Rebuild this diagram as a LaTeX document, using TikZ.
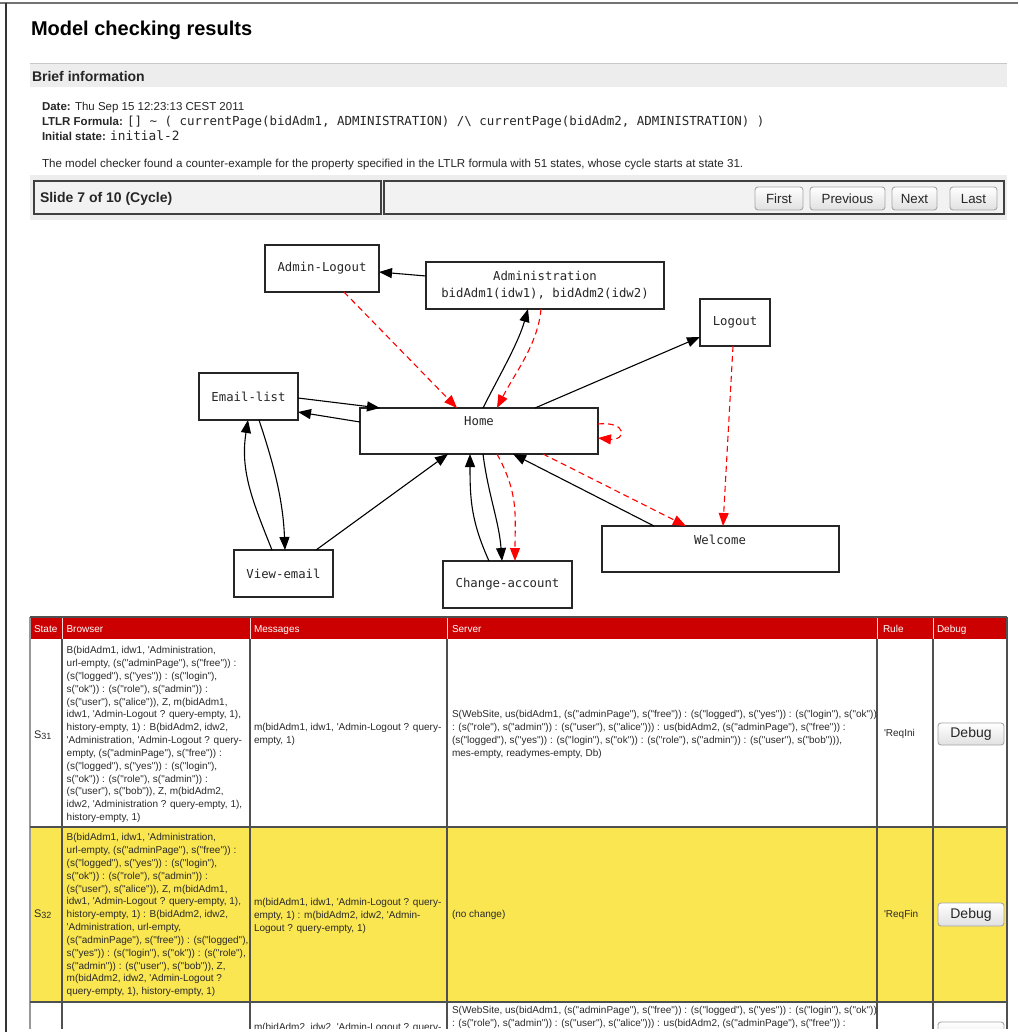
\documentclass[tikz,border=0pt]{standalone}
\usepackage{fontspec}
\setmainfont{Liberation Sans}[Ligatures=TeXOff]
\newfontfamily\monofont{DejaVu Sans Mono}
\usetikzlibrary{arrows.meta,calc}

% font size given in pixels (1px = 1pt here)
\newcommand\pxsize[1]{\fontsize{#1}{#1}\selectfont}
% several left-aligned lines; the box's baseline is the first line's baseline
\newcommand\celllines[1]{\vtop{\baselineskip=12.85pt\lineskiplimit=-100pt\lineskip=0pt\halign{##\hfil\cr#1\crcr}}}

\definecolor{hdrred}{HTML}{CC0000}
\definecolor{rowyellow}{HTML}{FAE650}
\definecolor{bandgray}{HTML}{EDEDED}
\definecolor{gridgray}{HTML}{505050}
\definecolor{celltext}{HTML}{2A2A2A}
\definecolor{btnborder}{HTML}{A6A6A6}

\tikzset{
  txt/.style={anchor=base west, text=black},
  cell/.style={anchor=base west, font=\pxsize{10}, text=celltext},
  hdr/.style={anchor=base west, font=\pxsize{10}, text=white},
  gbox/.style={draw=black!85, line width=1.2pt, rectangle, font=\monofont\pxsize{12.3}, text=black!85},
  glabel/.style={font=\monofont\pxsize{12.3}, text=black!85},
  blk/.style={draw=black, line width=1.1pt, -{Triangle[length=13pt,width=10pt]}},
  reddash/.style={draw=red, color=red, line width=1.1pt, dash pattern=on 6pt off 4pt, -{Triangle[length=13pt,width=10pt]}},
  btn/.style={draw=btnborder, line width=0.9pt, rounded corners=3pt, top color=white, bottom color=black!12, text=black!85},
}

\begin{document}
\begin{tikzpicture}[x=1pt,y=-1pt,every node/.style={inner sep=0pt,outer sep=0pt}]
\useasboundingbox (0,0) rectangle (1018,1032);
\fill[white] (0,0) rectangle (1018,1032);

% window frame
\draw[line width=2pt, draw=black!55] (0,3) -- (1018,3);
\draw[line width=1.6pt, draw=black!80] (6,3) -- (6,1032);

% heading
\node[txt, font=\bfseries\pxsize{20}] (title) at (31,36) {Model checking results};

% brief information band
\fill[bandgray] (30,63) rectangle (1007,87);
\draw[line width=1.5pt, draw=black!22] (30,63.5) -- (1007,63.5);
\node[txt, font=\bfseries\pxsize{14}, text=black!85] (brief) at (32,82) {Brief information};

\node[txt, font=\pxsize{11.5}, text=black!85] (date) at (42,111) {\textbf{Date:} Thu Sep 15 12:23:13 CEST 2011};
\node[txt, font=\pxsize{11.5}, text=black!85] (ltlr) at (42,126) {\textbf{LTLR Formula:} {\monofont\pxsize{12.45}[] \textasciitilde{} ( currentPage(bidAdm1, ADMINISTRATION) /\textbackslash{} currentPage(bidAdm2, ADMINISTRATION) )}};
\node[txt, font=\pxsize{11.5}, text=black!85] (init) at (42,141) {\textbf{Initial state:} {\monofont\pxsize{12.8}initial-2}};
\node[txt, font=\pxsize{11.6}, text=black!85] (found) at (42,168) {The model checker found a counter-example for the property specified in the LTLR formula with 51 states, whose cycle starts at state 31.};

% slide navigation bar
\fill[bandgray] (30,175) rectangle (1007,220);
\draw[line width=1.5pt, draw=black!75, fill=black!5] (34,181) rectangle (381,214);
\draw[line width=1.5pt, draw=black!75, fill=black!5] (384,181) rectangle (1004,214);
\node[txt, font=\bfseries\pxsize{14}, text=black!85] (slide) at (40,203) {Slide 7 of 10 (Cycle)};
\node[btn, font=\pxsize{13.3}, minimum width=48pt, minimum height=23pt] (first) at (779,198.5) {First};
\node[btn, font=\pxsize{13.3}, minimum width=75pt, minimum height=23pt] (prev) at (847.5,198.5) {Previous};
\node[btn, font=\pxsize{13.3}, minimum width=45pt, minimum height=23pt] (next) at (914.5,198.5) {Next};
\node[btn, font=\pxsize{13.3}, minimum width=47pt, minimum height=23pt] (last) at (973.5,198.5) {Last};

% ---- state graph ----
\node[gbox, minimum width=114pt, minimum height=47pt] (alogout) at (322,268.5) {Admin-Logout};
\node[gbox, minimum width=238pt, minimum height=47pt, align=center, font=\monofont\fontsize{12.3}{17}\selectfont] (admin) at (545,285.5) {Administration\\bidAdm1(idw1), bidAdm2(idw2)};
\node[gbox, minimum width=99pt, minimum height=47pt] (emaillist) at (248.5,396.5) {Email-list};
\node[gbox, minimum width=238pt, minimum height=46pt] (home) at (479,431) {};
\node[glabel] (hometext) at (479,421.5) {Home};
\node[gbox, minimum width=70pt, minimum height=47pt] (logout) at (735,322.5) {Logout};
\node[gbox, minimum width=237pt, minimum height=46pt] (welcome) at (720.5,549) {};
\node[glabel] (welcometext) at (720,539.5) {Welcome};
\node[gbox, minimum width=99pt, minimum height=47pt] (viewemail) at (283.5,573.5) {View-email};
\node[gbox, minimum width=129pt, minimum height=47pt] (change) at (507.5,584.5) {Change-account};

\draw[blk] ($(admin.north west)+(0,14)$) -- ($(alogout.north west)+(114,27)$);
\draw[reddash] ($(alogout.north west)+(79,47)$) -- ($(home.north west)+(97,0)$);
\draw[blk] ($(home.north west)+(123,0)$) .. controls +(15,-30) and +(-10,35) .. ($(admin.north west)+(102,47)$);
\draw[reddash] ($(admin.north west)+(115,47)$) .. controls +(-3,35) and +(18,-35) .. ($(home.north west)+(137,0)$);
\draw[blk] ($(home.north west)+(175,0)$) -- ($(logout.north west)+(0,38)$);
\draw[blk] ($(emaillist.north west)+(99,25)$) -- ($(home.north west)+(20,0)$);
\draw[blk] ($(home.north west)+(0,14)$) -- ($(emaillist.north west)+(99,39)$);
\draw[blk] ($(viewemail.north west)+(38,0)$) .. controls +(-20,-50) and +(-8,50) .. ($(emaillist.north west)+(49,47)$);
\draw[blk] ($(emaillist.north west)+(60,47)$) .. controls +(15,45) and +(-2,-50) .. ($(viewemail.north west)+(51,0)$);
\draw[blk] ($(viewemail.north west)+(82,0)$) -- ($(home.north west)+(88,46)$);
\draw[blk] ($(change.north west)+(46,0)$) .. controls +(-18,-40) and +(0,45) .. ($(home.north west)+(110,46)$);
\draw[blk] ($(home.north west)+(123,46)$) .. controls +(5,40) and +(-3,-40) .. ($(change.north west)+(59,0)$);
\draw[reddash] ($(home.north west)+(137,46)$) .. controls +(22,40) and +(0,-45) .. ($(change.north west)+(72,0)$);
\draw[reddash] ($(home.north west)+(183,46)$) -- ($(welcome.north west)+(84,0)$);
\draw[blk] ($(welcome.north west)+(52,0)$) -- ($(home.north west)+(153,46)$);
\draw[reddash] ($(logout.north west)+(33,47)$) -- ($(welcome.north west)+(121,0)$);
\draw[reddash] ($(home.north west)+(238,16)$) .. controls +(30,-3) and +(28,3) .. ($(home.north west)+(238,30)$);

% ---- trace table ----
\begin{scope}
\clip (0,600) rectangle (1018,1028);
\fill[hdrred] (30,617) rectangle (1007,639);
\fill[white] (30,639) rectangle (1007,827);
\fill[rowyellow] (30,827) rectangle (1007,1002);
\fill[white] (30,1002) rectangle (1007,1040);
\foreach \cx in {62,250,447,877,933}
  \draw[line width=0.8pt, draw=white!85!hdrred] (\cx,617) -- (\cx,639);
\foreach \cx in {62,250,447,877,933}
  \draw[line width=1.3pt, draw=gridgray] (\cx,639) -- (\cx,1040);
\draw[line width=1.3pt, draw=gridgray] (1007,617) -- (1007,1040);
\draw[line width=1.3pt, draw=black!40] (30,617) -- (30,1040);
\draw[line width=1.3pt, draw=gridgray] (30,617) -- (1007,617);
\draw[line width=1.3pt, draw=gridgray] (30,827) -- (1007,827);
\draw[line width=1.3pt, draw=gridgray] (30,1002) -- (1007,1002);

\node[hdr] (hstate) at (34,632.5) {State};
\node[hdr] (hbrowser) at (66.5,632.5) {Browser};
\node[hdr] (hmessages) at (254,632.5) {Messages};
\node[hdr] (hserver) at (452,632.5) {Server};
\node[hdr] (hrule) at (883,632.5) {Rule};
\node[hdr] (hdebug) at (937,632.5) {Debug};

% state 31
\node[cell, font=\pxsize{11}] (s31) at (34,738.6) {S\raisebox{-1.2pt}{\pxsize{9}31}};
\node[cell] (b31) at (66.7,653.6) {\celllines{%
B(bidAdm1, idw1, 'Administration,\cr
url-empty, (s("adminPage"), s("free")) :\cr
(s("logged"), s("yes")) : (s("login"),\cr
s("ok")) : (s("role"), s("admin")) :\cr
(s("user"), s("alice")), Z, m(bidAdm1,\cr
idw1, 'Admin-Logout ? query-empty, 1),\cr
history-empty, 1) : B(bidAdm2, idw2,\cr
'Administration, 'Admin-Logout ? query-\cr
empty, (s("adminPage"), s("free")) :\cr
(s("logged"), s("yes")) : (s("login"),\cr
s("ok")) : (s("role"), s("admin")) :\cr
(s("user"), s("bob")), Z, m(bidAdm2,\cr
idw2, 'Administration ? query-empty, 1),\cr
history-empty, 1)}};
\node[cell] (m31) at (254,730.6) {\celllines{%
m(bidAdm1, idw1, 'Admin-Logout ? query-\cr
empty, 1)}};
\node[cell] (v31) at (452,717.6) {\celllines{%
S(WebSite, us(bidAdm1, (s("adminPage"), s("free")) : (s("logged"), s("yes")) : (s("login"), s("ok"))\cr
: (s("role"), s("admin")) : (s("user"), s("alice"))) : us(bidAdm2, (s("adminPage"), s("free")) :\cr
(s("logged"), s("yes")) : (s("login"), s("ok")) : (s("role"), s("admin")) : (s("user"), s("bob"))),\cr
mes-empty, readymes-empty, Db)}};
\node[cell] (r31) at (884,736.6) {'ReqIni};
\node[btn, font=\pxsize{14}, minimum width=66pt, minimum height=22pt] (d31) at (971,734) {Debug};

% state 32
\node[cell, font=\pxsize{11}] (s32) at (34,917.6) {S\raisebox{-1.2pt}{\pxsize{9}32}};
\node[cell] (b32) at (66.7,840.6) {\celllines{%
B(bidAdm1, idw1, 'Administration,\cr
url-empty, (s("adminPage"), s("free")) :\cr
(s("logged"), s("yes")) : (s("login"),\cr
s("ok")) : (s("role"), s("admin")) :\cr
(s("user"), s("alice")), Z, m(bidAdm1,\cr
idw1, 'Admin-Logout ? query-empty, 1),\cr
history-empty, 1) : B(bidAdm2, idw2,\cr
'Administration, url-empty,\cr
(s("adminPage"), s("free")) : (s("logged"),\cr
s("yes")) : (s("login"), s("ok")) : (s("role"),\cr
s("admin")) : (s("user"), s("bob")), Z,\cr
m(bidAdm2, idw2, 'Admin-Logout ?\cr
query-empty, 1), history-empty, 1)}};
\node[cell] (m32) at (254,905.6) {\celllines{%
m(bidAdm1, idw1, 'Admin-Logout ? query-\cr
empty, 1) : m(bidAdm2, idw2, 'Admin-\cr
Logout ? query-empty, 1)}};
\node[cell] (v32) at (452,917.6) {(no change)};
\node[cell] (r32) at (884,917.6) {'ReqFin};
\node[btn, font=\pxsize{14}, minimum width=66pt, minimum height=23pt] (d32) at (971,914.5) {Debug};

% state 33 (only its top edge lies inside the view)
\node[cell] (m33) at (254,1030.5) {m(bidAdm2, idw2, 'Admin-Logout ? query-};
\node[cell] (v33) at (452,1013.5) {\celllines{%
S(WebSite, us(bidAdm1, (s("adminPage"), s("free")) : (s("logged"), s("yes")) : (s("login"), s("ok"))\cr
: (s("role"), s("admin")) : (s("user"), s("alice"))) : us(bidAdm2, (s("adminPage"), s("free")) :}};
\node[btn, minimum width=66pt, minimum height=23pt] (d33) at (971,1033.5) {};
\end{scope}
\end{tikzpicture}
\end{document}
